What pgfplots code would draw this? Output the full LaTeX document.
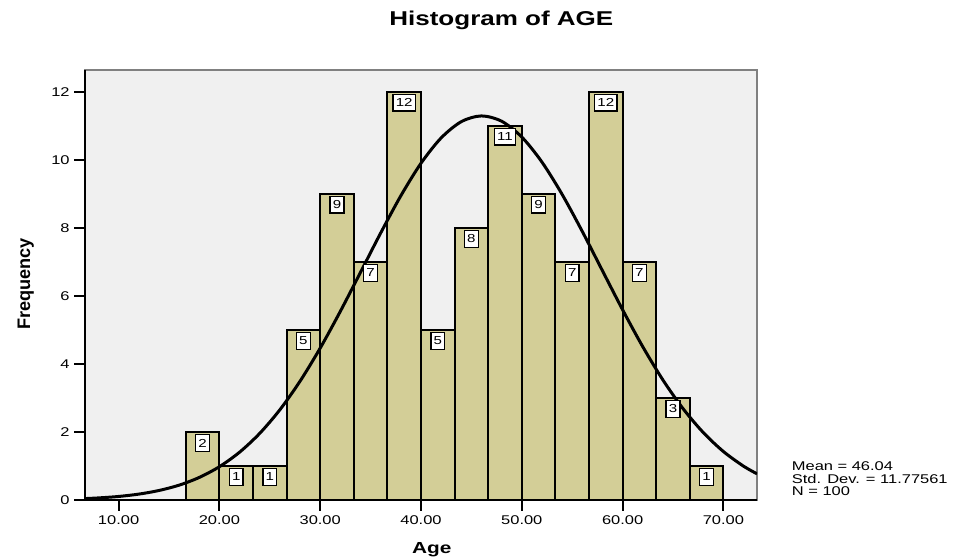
\documentclass[border=0pt]{standalone}
\usepackage{fontspec}
\setmainfont{Liberation Sans}[FakeStretch=1.3]
\newfontfamily\plainfont{Liberation Sans}
\usepackage{pgfplots}
\pgfplotsset{compat=1.18}
\definecolor{barfill}{RGB}{211,206,151}
\definecolor{bgfill}{RGB}{240,240,240}
\definecolor{framegray}{RGB}{128,128,128}
\begin{document}
\begin{tikzpicture}
\path[use as bounding box] (0,0) rectangle (717pt,418.5pt);
\begin{axis}[
  at={(63.75pt,43.5pt)}, anchor=south west,
  scale only axis, width=504pt, height=322.5pt,
  xmin=6.6667, xmax=73.3333, ymin=0, ymax=12.64,
  axis background/.style={fill=bgfill},
  axis line style={framegray, line width=1.5pt},
  xtick={10,20,...,70}, ytick={0,2,...,12},
  minor tick num=0,
  tick align=outside, tick pos=left, major tick length=8pt,
  tick style={black, line width=1.5pt},
  /pgf/number format/assume math mode=true,
  x tick label style={/pgf/number format/.cd, fixed, fixed zerofill, precision=2, assume math mode=true, /tikz/.cd},
  tick label style={font=\fontsize{9.5}{11}\selectfont},
  after end axis/.code={\draw[black, line width=1.5pt] (rel axis cs:0,1) -- (rel axis cs:0,0) -- (rel axis cs:1,0);},
]
\addplot[ybar, bar width=3.3333, fill=barfill, draw=black, line width=1.5pt,
  nodes near coords,
  every node near coord/.append style={draw=black, line width=1pt, fill=white,
    font=\fontsize{8.7}{10}\selectfont, inner xsep=2pt, inner ysep=1.5pt,
    minimum height=12.5pt, anchor=north, yshift=-1.5pt}]
coordinates {
(18.333,2) (21.667,1) (25,1) (28.333,5) (31.667,9) (35,7) (38.333,12) (41.667,5)
(45,8) (48.333,11) (51.667,9) (55,7) (58.333,12) (61.667,7) (65,3) (68.333,1)
};
\addplot[black, line width=2.25pt, smooth] coordinates {
(6.667,0.042) (8,0.061) (10,0.104) (12,0.173) (14,0.279) (16,0.436) (18,0.663)
(20,0.979) (22,1.405) (24,1.959) (26,2.653) (28,3.492) (30,4.465) (32,5.547)
(34,6.694) (36,7.849) (38,8.943) (40,9.899) (42,10.644) (44,11.122) (46,11.290)
(48,11.134) (50,10.669) (52,9.933) (54,8.984) (56,7.895) (58,6.740) (60,5.592)
(62,4.506) (64,3.528) (66,2.684) (68,1.984) (70,1.425) (72,0.994) (73.333,0.770)
};
\end{axis}
\node[font=\bfseries\fontsize{15}{18}\selectfont, anchor=base] at (376pt,399pt) {Histogram of AGE};
\node[font=\bfseries\fontsize{12}{14}\selectfont, anchor=base] at (323.75pt,3.5pt) {Age};
\node[font=\plainfont\bfseries\fontsize{13.6}{16}\selectfont, anchor=base, rotate=90] at (22.5pt,205.5pt) {Frequency};
\node[font=\fontsize{9.5}{11}\selectfont, anchor=base west, inner sep=0pt] at (593.7pt,66pt) {Mean = 46.04};
\node[font=\fontsize{9.5}{11}\selectfont, anchor=base west, inner sep=0pt] at (593.7pt,56.25pt) {Std. Dev. = 11.77561};
\node[font=\fontsize{9.5}{11}\selectfont, anchor=base west, inner sep=0pt] at (593.7pt,46.7pt) {N = 100};
\end{tikzpicture}
\end{document}
